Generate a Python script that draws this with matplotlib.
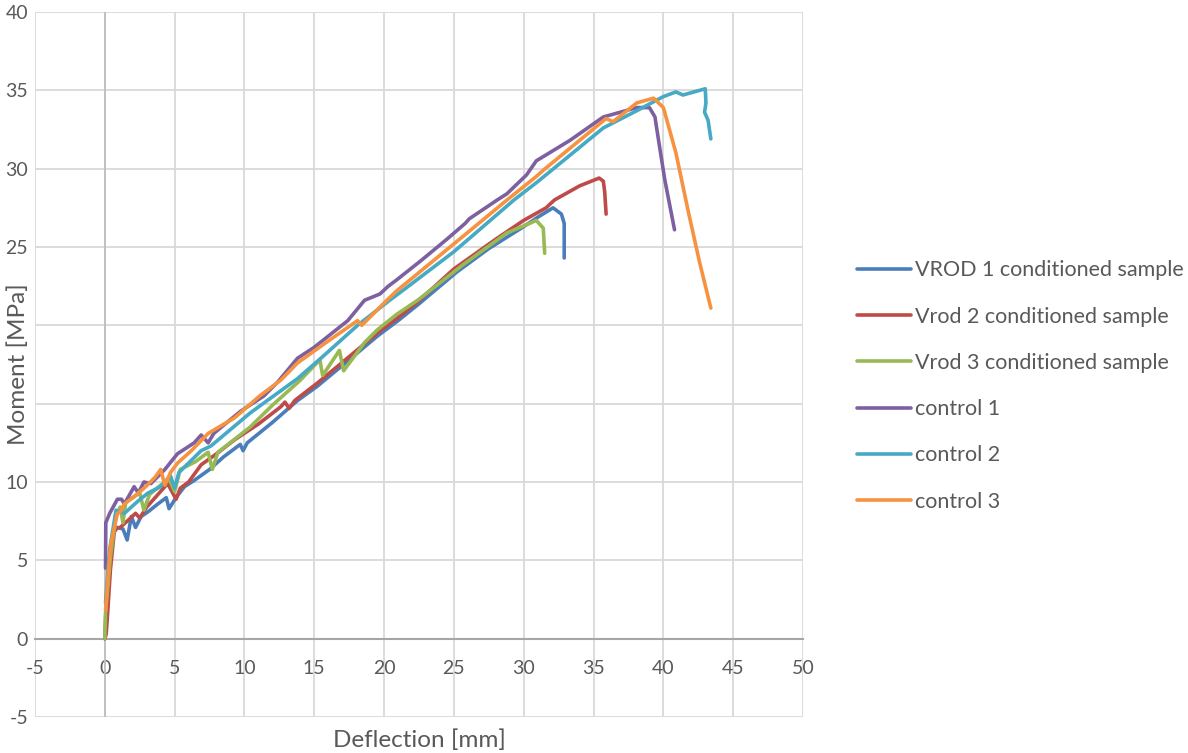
import matplotlib
matplotlib.use("Agg")
import matplotlib.pyplot as plt

plt.rcParams['font.family'] = ['Lato', 'DejaVu Sans']
plt.rcParams['axes.unicode_minus'] = False

vrod1_x = [0, 0.1, 0.3, 0.6, 0.9, 1.3, 1.6, 1.9, 2.2, 2.6, 3.1, 3.8, 4.4, 4.6, 5.1, 5.7, 6.4, 7.5, 8.5,
           9.7, 9.9, 10.2, 12.0, 13.8, 15.2, 17.5, 19.5, 21.0, 22.4, 25.2, 27.5, 30.0, 31.0, 32.1, 32.7, 32.9, 32.9]
vrod1_y = [0, 2.3, 5.0, 6.7, 7.1, 7.0, 6.3, 7.8, 7.1, 7.8, 8.1, 8.6, 9.0, 8.3, 9.0, 9.7, 10.1, 10.8, 11.6,
           12.4, 12.0, 12.5, 13.8, 15.2, 16.1, 17.8, 19.3, 20.3, 21.3, 23.4, 24.9, 26.3, 26.9, 27.5, 27.1, 26.5, 24.3]

vrod2_x = [0, 0.1, 0.2, 0.4, 0.7, 1.1, 1.6, 2.2, 2.5, 3.0, 3.6, 4.5, 5.1, 5.4, 6.0, 6.9, 8.0, 9.3, 11.0,
           12.6, 12.9, 13.2, 13.6, 15.2, 17.5, 19.5, 21.0, 22.4, 25.0, 28.0, 30.0, 31.6, 32.2, 34.0, 35.4,
           35.7, 35.8, 35.9]
vrod2_y = [0, 0.3, 1.6, 4.4, 7.0, 7.1, 7.5, 8.0, 7.7, 8.4, 9.0, 9.9, 8.9, 9.6, 10.0, 11.1, 11.8, 12.7, 13.7,
           14.8, 15.1, 14.7, 15.2, 16.3, 18.0, 19.5, 20.5, 21.5, 23.6, 25.5, 26.7, 27.5, 28.0, 28.9, 29.4,
           29.2, 28.5, 27.1]

vrod3_x = [0, 0.05, 0.4, 0.8, 1.1, 1.3, 1.5, 2.0, 2.5, 2.8, 3.2, 4.0, 4.6, 5.0, 5.4, 6.5, 7.4, 7.7, 8.1,
           10.4, 12.0, 14.0, 15.4, 15.6, 16.8, 17.1, 18.6, 19.5, 20.9, 22.4, 25.7, 28.8, 30.4, 30.9, 31.4, 31.5]
vrod3_y = [0, 1.6, 5.2, 7.8, 8.4, 7.4, 8.7, 9.0, 9.3, 8.2, 9.2, 9.8, 10.2, 9.4, 10.8, 11.3, 11.9, 10.8, 11.9,
           13.5, 14.9, 16.5, 17.8, 16.8, 18.4, 17.1, 18.9, 19.7, 20.7, 21.6, 23.9, 25.9, 26.5, 26.7, 26.2, 24.6]

control1_x = [0.05, 0.07, 0.35, 0.9, 1.2, 1.4, 2.1, 2.4, 2.8, 3.3, 4.3, 5.2, 6.4, 6.9, 7.4, 7.8, 9.7, 11.4,
              12.4, 13.8, 15.0, 17.4, 18.6, 19.7, 20.3, 20.9, 22.6, 24.5, 25.8, 26.1, 26.6, 28.1, 28.8, 30.2,
              30.9, 33.3, 35.7, 38.1, 39.0, 39.4, 39.5, 40.1, 40.8]
control1_y = [4.5, 7.4, 8.0, 8.9, 8.9, 8.6, 9.7, 9.3, 10.0, 9.9, 10.8, 11.8, 12.5, 13.0, 12.5, 13.1, 14.5, 15.5,
              16.4, 17.9, 18.6, 20.3, 21.6, 22.0, 22.5, 22.9, 24.1, 25.5, 26.5, 26.8, 27.1, 28.0, 28.4, 29.6,
              30.5, 31.8, 33.3, 33.9, 33.9, 33.3, 32.7, 29.3, 26.1]

control2_x = [0.05, 0.35, 0.8, 1.4, 2.4, 3.1, 4.0, 4.7, 5.0, 5.3, 6.9, 7.6, 10.4, 13.8, 15.6, 18.1, 20.4,
              21.6, 25.0, 29.3, 30.9, 32.0, 35.7, 38.1, 40.0, 40.9, 41.4, 43.0, 43.05, 42.95, 43.2, 43.3, 43.4]
control2_y = [2.3, 5.7, 8.2, 8.0, 8.8, 9.3, 9.7, 10.4, 9.6, 10.6, 12.0, 12.3, 14.4, 16.6, 18.0, 20.0, 21.6,
              22.4, 24.7, 28.0, 29.1, 29.9, 32.6, 33.7, 34.6, 34.9, 34.7, 35.1, 34.2, 33.6, 33.1, 32.5, 31.9]

control3_x = [0.05, 0.4, 0.9, 1.1, 1.4, 2.0, 2.8, 3.6, 4.0, 4.3, 4.7, 5.2, 6.2, 7.4, 9.3, 11.1, 12.6, 13.8,
              16.0, 18.1, 18.4, 20.2, 20.9, 25.0, 28.8, 30.9, 31.4, 35.9, 36.4, 38.1, 39.3, 40.0, 40.9, 41.8,
              42.6, 43.4]
control3_y = [1.8, 5.9, 8.0, 8.1, 8.6, 9.0, 9.6, 10.3, 10.8, 9.8, 10.6, 11.2, 12.0, 13.1, 14.1, 15.5, 16.5, 17.6,
              19.0, 20.3, 20.0, 21.6, 22.2, 25.2, 28.0, 29.5, 29.9, 33.2, 33.0, 34.2, 34.5, 33.9, 31.0, 27.2,
              24.0, 21.1]

series = [
    ("VROD 1 conditioned sample", vrod1_x, vrod1_y, "#4A7EBB"),
    ("Vrod 2 conditioned sample", vrod2_x, vrod2_y, "#BE4B48"),
    ("Vrod 3 conditioned sample", vrod3_x, vrod3_y, "#98B954"),
    ("control 1", control1_x, control1_y, "#7D60A0"),
    ("control 2", control2_x, control2_y, "#46AAC5"),
    ("control 3", control3_x, control3_y, "#F69240"),
]

x_ticks = list(range(-5, 51, 5))
y_ticks = list(range(-5, 41, 5))
# 15 und 20 liegen im Original unter dem Achsentitel
y_ticklabels = ["" if v in (15, 20) else str(v) for v in y_ticks]

fig = plt.figure(figsize=(11.88, 7.53), dpi=100)
ax = fig.add_axes([35 / 1188, 1 - 717 / 753, 768 / 1188, 705 / 753])

for name, xs, ys, col in series:
    ax.plot(xs, ys, color=col, lw=2.6, label=name, solid_joinstyle="round", solid_capstyle="round", zorder=3)

ax.set_xlim(-5, 50)
ax.set_ylim(-5, 40)
ax.set_xticks(x_ticks)
ax.set_yticks(y_ticks)
ax.set_yticklabels(y_ticklabels)
ax.grid(True, color="#D9D9D9", lw=1.3, zorder=0)
ax.set_axisbelow(True)

for s in ["top", "right", "left"]:
    ax.spines[s].set_visible(False)
ax.spines["bottom"].set_position(("data", 0))
ax.spines["bottom"].set_color("#A6A6A6")
ax.spines["bottom"].set_linewidth(1.5)
ax.axvline(0, color="#BFBFBF", lw=1.3, zorder=1)

ax.tick_params(axis="x", length=0, pad=15, labelsize=14, labelcolor="#595959")
ax.tick_params(axis="y", length=0, pad=5, labelsize=14, labelcolor="#595959")

ax.text(0.5, -0.033, "Deflection [mm]", transform=ax.transAxes, ha="center", va="center",
        fontsize=17.5, color="#595959")
ax.text(-0.022, 0.5, "Moment [MPa]", transform=ax.transAxes, ha="center", va="center",
        rotation=90, fontsize=17.5, color="#595959")

leg = fig.legend(loc="center left", bbox_to_anchor=(857 / 1188, 1 - 386 / 753), frameon=False,
                 fontsize=15.5, handlelength=2.5, handletextpad=0.2, labelspacing=1.22,
                 borderpad=0, borderaxespad=0)
for t in leg.get_texts():
    t.set_color("#595959")

fig.savefig("out.png", dpi=100)
